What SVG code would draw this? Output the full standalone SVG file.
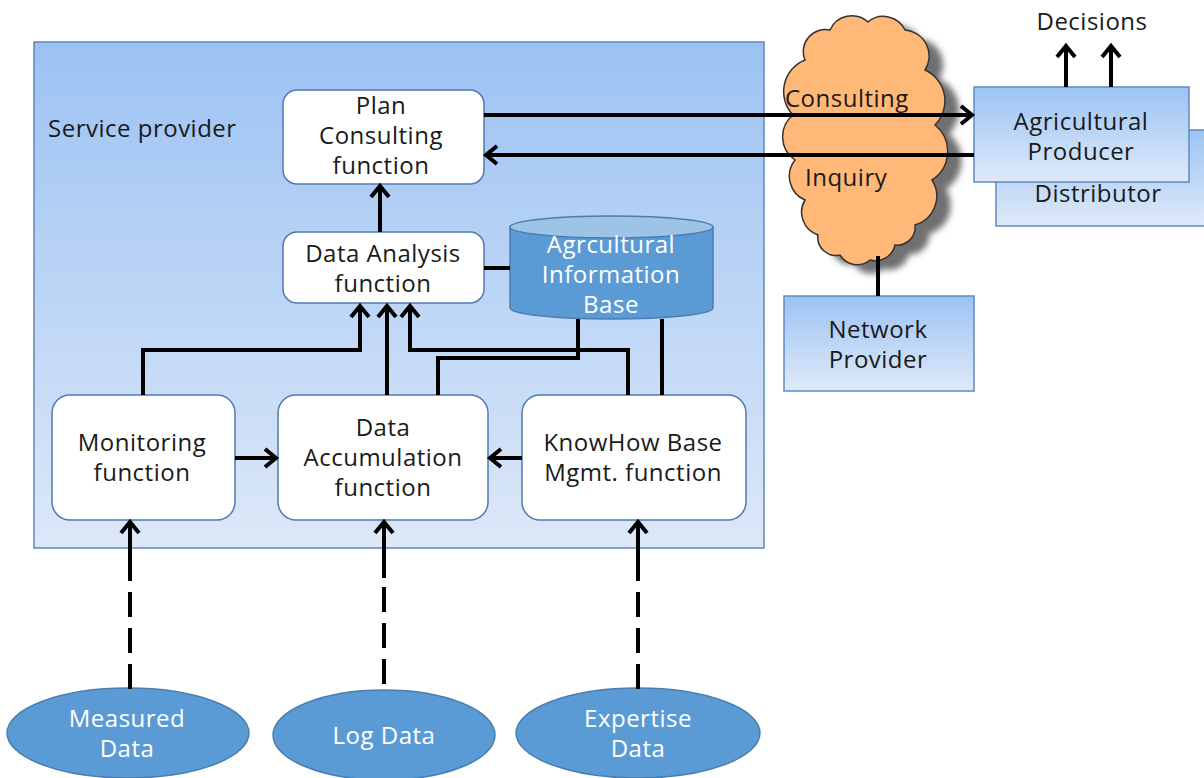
<svg xmlns="http://www.w3.org/2000/svg" width="1204" height="778" viewBox="0 0 1204 778">
  <style>
    text { font-family: "Open Sans", "Noto Sans", sans-serif; font-size: 24px; letter-spacing: 0.5px; fill: #1a1a1a; text-anchor: middle; }
    .lt { fill: #ffffff; }
    .fn { fill: #ffffff; stroke: #4f7cb0; stroke-width: 1.5; }
    .bx { fill: url(#boxGrad); stroke: #5f8bc2; stroke-width: 1.5; }
    .ov { fill: #5b9bd5; stroke: #4a7eb0; stroke-width: 1.5; }
    .ln { fill: none; stroke: #000; stroke-width: 4; }
    .ar { marker-end: url(#head); }
    .dash { stroke-dasharray: 25 11; }
  </style>
  <defs>
    <linearGradient id="spGrad" x1="0" y1="0" x2="0" y2="1">
      <stop offset="0" stop-color="#9cc2f3"/>
      <stop offset="1" stop-color="#dde8f8"/>
    </linearGradient>
    <linearGradient id="boxGrad" x1="0" y1="0" x2="0" y2="1">
      <stop offset="0" stop-color="#9cc3f3"/>
      <stop offset="1" stop-color="#dfeaf9"/>
    </linearGradient>
    <filter id="soft" x="-20%" y="-20%" width="140%" height="140%">
      <feGaussianBlur stdDeviation="3"/>
    </filter>
    <marker id="head" markerUnits="userSpaceOnUse" markerWidth="30" markerHeight="30" viewBox="-15 -15 30 30" refX="0" refY="0" orient="auto" overflow="visible">
      <path d="M -11 -9 L 0 0 L -11 9" fill="none" stroke="#000" stroke-width="4"/>
    </marker>
  </defs>

  <!-- service provider domain -->
  <g id="service-provider">
    <rect x="34" y="42" width="730" height="506" fill="url(#spGrad)" stroke="#5f87bd" stroke-width="1.5"/>
    <text x="48" y="137" style="text-anchor:start">Service provider</text>
  </g>

  <!-- network cloud with soft shadow -->
  <g id="network-cloud">
    <path transform="translate(14,9)" filter="url(#soft)" fill="#707070" d="M805 60 A22 22 0 0 1 830 30 A24 24 0 0 1 868 22 A24 24 0 0 1 905 30 A26 26 0 0 1 925 70 A34 34 0 0 1 935 125 A34 34 0 0 1 932 180 A30 30 0 0 1 915 225 A18 18 0 0 1 895 245 A20 20 0 0 1 870 260 A20 20 0 0 1 840 255 A18 18 0 0 1 818 235 A24 24 0 0 1 805 200 A26 26 0 0 1 795 160 A28 28 0 0 1 793 115 A34 34 0 0 1 805 60 Z"/>
    <path fill="#ffb877" stroke="#333" stroke-width="1.5" d="M805 60 A22 22 0 0 1 830 30 A24 24 0 0 1 868 22 A24 24 0 0 1 905 30 A26 26 0 0 1 925 70 A34 34 0 0 1 935 125 A34 34 0 0 1 932 180 A30 30 0 0 1 915 225 A18 18 0 0 1 895 245 A20 20 0 0 1 870 260 A20 20 0 0 1 840 255 A18 18 0 0 1 818 235 A24 24 0 0 1 805 200 A26 26 0 0 1 795 160 A28 28 0 0 1 793 115 A34 34 0 0 1 805 60 Z"/>
  </g>

  <g id="plan-consulting">
    <rect class="fn" x="283" y="90" width="201" height="94" rx="14"/>
    <text x="381" y="114">Plan</text>
    <text x="381" y="144">Consulting</text>
    <text x="381" y="174">function</text>
  </g>

  <g id="data-analysis">
    <rect class="fn" x="283" y="232" width="201" height="71" rx="14"/>
    <text x="383" y="262">Data Analysis</text>
    <text x="383" y="292">function</text>
  </g>

  <g id="info-base">
    <path d="M510 227 L510 308 A101.5 11 0 0 0 713 308 L713 227 Z" fill="#5b9bd5" stroke="#4a7eb0" stroke-width="1.5"/>
    <ellipse cx="611.5" cy="227" rx="101.5" ry="11" fill="#9dc3e6" stroke="#4a7eb0" stroke-width="1.5"/>
    <text class="lt" x="611" y="253">Agrcultural</text>
    <text class="lt" x="611" y="283">Information</text>
    <text class="lt" x="611" y="313">Base</text>
  </g>

  <g id="monitoring">
    <rect class="fn" x="52" y="395" width="183" height="125" rx="18"/>
    <text x="142" y="451">Monitoring</text>
    <text x="142" y="481">function</text>
  </g>

  <g id="data-accumulation">
    <rect class="fn" x="278" y="395" width="210" height="125" rx="18"/>
    <text x="383" y="436">Data</text>
    <text x="383" y="466">Accumulation</text>
    <text x="383" y="496">function</text>
  </g>

  <g id="knowhow-base">
    <rect class="fn" x="522" y="395" width="224" height="125" rx="18"/>
    <text x="633" y="451">KnowHow Base</text>
    <text x="633" y="481">Mgmt. function</text>
  </g>

  <g id="distributor">
    <rect class="bx" x="996" y="130" width="215" height="96"/>
    <text x="1098" y="202">Distributor</text>
  </g>

  <g id="agricultural-producer">
    <rect class="bx" x="974" y="87" width="215" height="95"/>
    <text x="1081" y="130">Agricultural</text>
    <text x="1081" y="160">Producer</text>
  </g>

  <g id="network-provider">
    <rect class="bx" x="784" y="296" width="190" height="95"/>
    <text x="878" y="338">Network</text>
    <text x="878" y="368">Provider</text>
  </g>

  <g id="decisions">
    <text x="1092" y="30">Decisions</text>
  </g>

  <g id="measured-data">
    <ellipse class="ov" cx="128" cy="733" rx="121" ry="45"/>
    <text class="lt" x="127" y="727">Measured</text>
    <text class="lt" x="127" y="757">Data</text>
  </g>

  <g id="log-data">
    <ellipse class="ov" cx="384" cy="735" rx="111" ry="45"/>
    <text class="lt" x="384" y="744">Log Data</text>
  </g>

  <g id="expertise-data">
    <ellipse class="ov" cx="638" cy="733" rx="122" ry="45"/>
    <text class="lt" x="638" y="727">Expertise</text>
    <text class="lt" x="638" y="757">Data</text>
  </g>

  <!-- connectors -->
  <g id="connectors">
    <path class="ln ar" d="M380 232 L380 186"/>
    <path class="ln" d="M484 268 L510 268"/>
    <path class="ln ar" d="M143 395 L143 350 L360 350 L360 306"/>
    <path class="ln ar" d="M387 395 L387 306"/>
    <path class="ln ar" d="M628 395 L628 350 L410 350 L410 306"/>
    <path class="ln" d="M578 319 L578 358 L438 358 L438 395"/>
    <path class="ln" d="M662 319 L662 395"/>
    <path class="ln ar" d="M235 458 L276 458"/>
    <path class="ln ar" d="M522 458 L490 458"/>
    <path class="ln ar" d="M484 115 L972 115"/>
    <path class="ln ar" d="M974 155 L486 155"/>
    <path class="ln ar" d="M1066 87 L1066 46"/>
    <path class="ln ar" d="M1111 87 L1111 46"/>
    <path class="ln" d="M878 256 L878 296"/>
    <path class="ln ar" d="M130 578 L130 522"/>
    <path class="ln dash" d="M130 689 L130 578"/>
    <path class="ln ar" d="M384 578 L384 522"/>
    <path class="ln dash" d="M384 684 L384 578"/>
    <path class="ln ar" d="M638 578 L638 522"/>
    <path class="ln dash" d="M638 689 L638 578"/>
    <text x="785" y="107" style="text-anchor:start">Consulting</text>
    <text x="805" y="186" style="text-anchor:start">Inquiry</text>
  </g>
</svg>
